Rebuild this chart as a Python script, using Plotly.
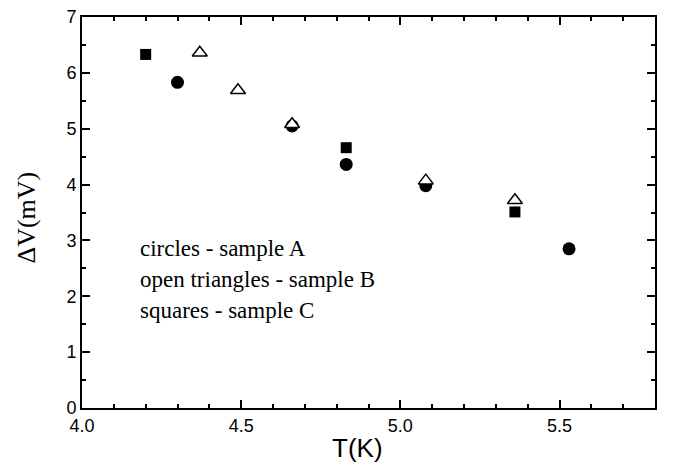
import plotly.graph_objects as go

# Sample A (circles)
a_T = [4.30, 4.66, 4.83, 5.08, 5.53]
a_V = [5.83, 5.05, 4.36, 3.98, 2.85]
# Sample B (open triangles)
b_T = [4.37, 4.49, 4.66, 5.08, 5.36]
b_V = [6.36, 5.69, 5.08, 4.07, 3.72]
# Sample C (squares)
c_T = [4.20, 4.83, 5.36]
c_V = [6.33, 4.66, 3.51]

labels = ["circles - sample A", "open triangles - sample B", "squares - sample C"]

fig = go.Figure()
fig.add_trace(go.Scatter(x=a_T, y=a_V, mode="markers", name="A",
                         marker=dict(symbol="circle", size=13, color="black")))
fig.add_trace(go.Scatter(x=c_T, y=c_V, mode="markers", name="C",
                         marker=dict(symbol="square", size=11, color="black")))
fig.add_trace(go.Scatter(x=b_T, y=b_V, mode="markers", name="B",
                         marker=dict(symbol="triangle-up", size=13, color="white",
                                     line=dict(color="black", width=1.5))))

for i, t in enumerate(labels):
    fig.add_annotation(x=0.098, y=0.409 - i * 0.080, xref="paper", yref="paper",
                       text=t, showarrow=False, xanchor="left", yanchor="middle",
                       font=dict(family="Liberation Serif", size=23, color="black"))

fig.add_annotation(x=-0.096, y=0.487, xref="paper", yref="paper", text="ΔV(mV)",
                   showarrow=False, textangle=-90, xanchor="center", yanchor="middle",
                   font=dict(family="Liberation Serif", size=26, color="black"))
fig.add_annotation(x=0.48, y=-0.1025, xref="paper", yref="paper", text="T(K)",
                   showarrow=False, xanchor="center", yanchor="middle",
                   font=dict(family="Liberation Sans", size=26, color="black"))

axis_common = dict(showline=True, linecolor="black", linewidth=2, mirror="allticks",
                   ticks="inside", ticklen=8, tickwidth=1.5, tickcolor="black",
                   showgrid=False, zeroline=False, automargin=False,
                   ticklabeloverflow="allow",
                   tickfont=dict(family="Liberation Sans", size=18, color="black"))

fig.update_layout(
    width=665, height=462,
    margin=dict(l=74, r=18, t=9, b=62),
    plot_bgcolor="white", paper_bgcolor="white",
    showlegend=False,
    xaxis=dict(range=[4.0, 5.8], dtick=0.5, tick0=4.0, tickformat=".1f",
               minor=dict(dtick=0.1, ticks="inside", ticklen=4, tickcolor="black", tickwidth=1.5),
               **axis_common),
    yaxis=dict(range=[0, 7], dtick=1, tick0=0,
               minor=dict(dtick=0.5, ticks="inside", ticklen=4, tickcolor="black", tickwidth=1.5),
               **axis_common),
)

fig.write_html("out.html")
